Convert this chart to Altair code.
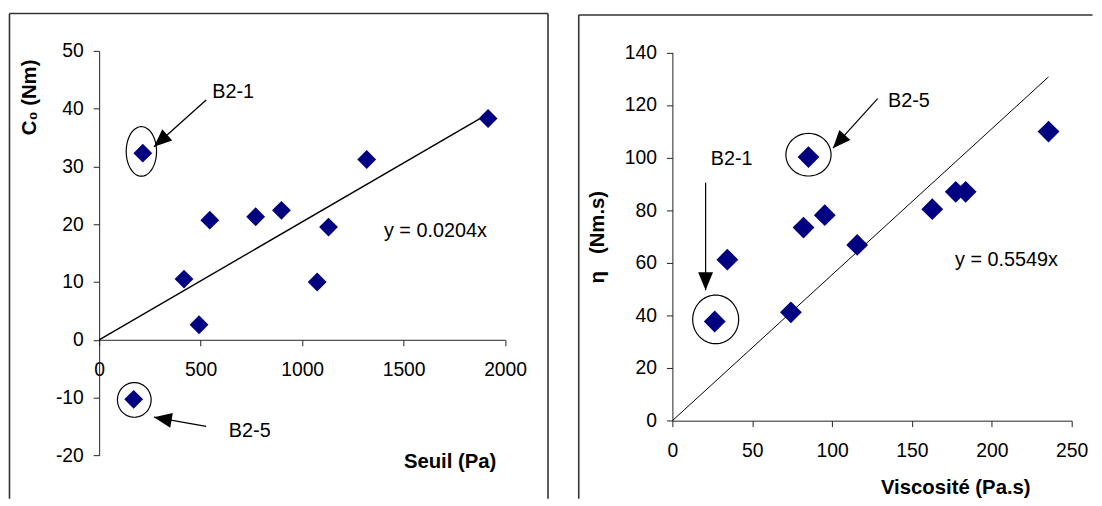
import math
import altair as alt
import pandas as pd

# ---------------- data ----------------
# Left panel: C0 (Nm) versus Seuil (Pa)
seuil = [215, 1916, 1318, 898, 771, 545, 1130, 418, 1074, 492, 170]
c0 = [32.3, 38.3, 31.2, 22.4, 21.3, 20.7, 19.5, 10.5, 10.0, 2.6, -10.3]
slope_left = 0.0204

# Right panel: eta (Nm.s) versus Viscosite (Pa.s)
visc = [26.5, 34.4, 74.2, 82.1, 85.2, 95.4, 115.7, 162.7, 177.4, 183.6, 235.5]
eta = [37.7, 61.2, 41.2, 73.4, 100.2, 78.1, 66.8, 80.4, 87.0, 87.0, 109.9]
slope_right = 0.5549

left_x_ticks = [0, 500, 1000, 1500, 2000]
left_y_ticks = [-20, -10, 0, 10, 20, 30, 40, 50]
right_x_ticks = [0, 50, 100, 150, 200, 250]
right_y_ticks = [0, 20, 40, 60, 80, 100, 120, 140]

# annotations (data units)
left_labels = ["B2-1", "B2-5", "y = 0.0204x"]
left_label_x = [557, 639, 1403]
left_label_y = [42.9, -15.8, 18.9]
left_ring_x = [208, 173]
left_ring_y = [32.6, -10.4]
left_ring_rx = [15.3, 17.0]
left_ring_ry = [25.0, 17.5]
left_arrow_x = [527, 527]
left_arrow_y = [41.5, -15.0]
left_arrow_x2 = [270, 270]
left_arrow_y2 = [33.4, -13.4]

right_labels = ["B2-5", "B2-1", "y = 0.5549x"]
right_label_x = [135, 24, 177]
right_label_y = [121.5, 99.5, 60.9]
right_ring_x = [85.2, 27.1]
right_ring_y = [101.1, 38.5]
right_ring_rx = [22.8, 23.2]
right_ring_ry = [21.5, 24.5]
right_arrow_x = [128.5, 20.8]
right_arrow_y = [122.4, 90.4]
right_arrow_x2 = [100.5, 20.8]
right_arrow_y2 = [103.6, 49.6]

# ---------------- layout ----------------
FONT = "Liberation Sans"
LW, LH = 409.7, 408.2
RW, RH = 403.0, 373.2
LX_DOM, LX_RNG = [0, 2000], [0, LW]
LY_DOM, LY_RNG = [-20, 50], [LH, 0]
RX_DOM, RX_RNG = [0, 250], [0, RW]
RY_DOM, RY_RNG = [0, 140], [RH, 1.5]
HEAD = "M0,0L-7.5,18L7.5,18Z"
PLAIN = "'' + datum.value"   # plain integers, ASCII minus sign


def to_px(v, dom, rng):
    return rng[0] + (v - dom[0]) / (dom[1] - dom[0]) * (rng[1] - rng[0])


def ellipse(rx, ry, n=72):
    pts = []
    for i in range(n):
        t = 2 * math.pi * i / n
        pts.append(f"{rx * math.cos(t):.2f},{ry * math.sin(t):.2f}")
    return "M" + "L".join(pts) + "Z"


def arrow_df(xs, ys, x2s, y2s, xd, xr, yd, yr):
    angs = []
    for a, b, c, d in zip(xs, ys, x2s, y2s):
        dx = to_px(c, xd, xr) - to_px(a, xd, xr)
        dy = to_px(d, yd, yr) - to_px(b, yd, yr)
        angs.append(math.degrees(math.atan2(dx, -dy)) % 360)
    return pd.DataFrame({"x": xs, "y": ys, "x2": x2s, "y2": y2s, "ang": angs})


def frame_rules(segments):
    one = pd.DataFrame({"a": [0]})
    out = []
    for (x1, y1, x2, y2) in segments:
        out.append(alt.Chart(one).mark_rule(color="#333333", strokeWidth=1.6).encode(
            x=alt.value(x1), y=alt.value(y1), x2=alt.value(x2), y2=alt.value(y2)))
    return out


def panel(px_vals, py_vals, slope, xd, xr, yd, yr, xaxis, yaxis,
          labels, lx, ly, rx_, ry_, rrx, rry, ax, ay, ax2, ay2,
          pt_size, line_w, shaft_w, frame_segments, w, h):
    sx = alt.Scale(domain=xd, range=xr, nice=False, zero=False)
    sy = alt.Scale(domain=yd, range=yr, nice=False, zero=False)

    # the same axis definition on every layer so the shared axis merges cleanly
    def X(f):
        return alt.X(f, type="quantitative", scale=sx, axis=xaxis)

    def Y(f):
        return alt.Y(f, type="quantitative", scale=sy, axis=yaxis)

    pts = pd.DataFrame({"x": px_vals, "y": py_vals})
    xmax = max(px_vals)
    trend = pd.DataFrame({"x": [0, xmax], "y": [0, slope * xmax]})
    rings = pd.DataFrame({"x": rx_, "y": ry_,
                          "path": [ellipse(a, b) for a, b in zip(rrx, rry)]})
    arrows = arrow_df(ax, ay, ax2, ay2, xd, xr, yd, yr)
    texts = pd.DataFrame({"x": lx, "y": ly, "t": labels})

    line_l = alt.Chart(trend).mark_line(color="black", strokeWidth=line_w).encode(
        x=X("x"), y=Y("y"))
    ring_l = alt.Chart(rings).mark_point(
        filled=False, size=4, color="black", strokeWidth=1.2, opacity=1
    ).encode(x=X("x"), y=Y("y"), shape=alt.Shape("path:N", scale=None))
    shaft_l = alt.Chart(arrows).mark_rule(color="black", strokeWidth=shaft_w).encode(
        x=X("x"), y=Y("y"), x2="x2:Q", y2="y2:Q")
    head_l = alt.Chart(arrows).mark_point(
        filled=True, size=4, color="black", opacity=1, shape=HEAD
    ).encode(x=X("x2"), y=Y("y2"), angle=alt.Angle("ang:Q", scale=None))
    text_l = alt.Chart(texts).mark_text(
        align="left", baseline="middle", font=FONT, fontSize=20, color="black"
    ).encode(x=X("x"), y=Y("y"), text="t:N")
    pt_l = alt.Chart(pts).mark_point(
        shape="diamond", filled=True, size=pt_size, color="#000080", opacity=1
    ).encode(x=X("x"), y=Y("y"))
    layers = frame_rules(frame_segments) + [line_l, ring_l, shaft_l, head_l, text_l, pt_l]
    return alt.layer(*layers).properties(width=w, height=h)


# left panel: x axis sits on y = 0
ax_xl = alt.Axis(orient="bottom", offset=-(LH - to_px(0, LY_DOM, LY_RNG)),
                 values=left_x_ticks, labelExpr=PLAIN,
                 title="Seuil (Pa)", titleX=353.7, titleY=123,
                 titleAngle=0, titleAlign="center", titleBaseline="middle",
                 labelPadding=15.5)
ax_yl = alt.Axis(orient="left", values=left_y_ticks, labelExpr=PLAIN,
                 title="C₀ (Nm)", titleX=-70.3, titleY=46.5, titleAngle=270,
                 titleAlign="center", titleBaseline="middle", labelPadding=10)
ax_xr = alt.Axis(orient="bottom", values=right_x_ticks, labelExpr=PLAIN,
                 title="Viscosité (Pa.s)", titleX=285.5, titleY=67.6, titleAngle=0,
                 titleAlign="center", titleBaseline="middle", labelPadding=15.5)
ax_yr = alt.Axis(orient="left", values=right_y_ticks, labelExpr=PLAIN,
                 title="η\u00a0\u00a0\u00a0(Nm.s)", titleX=-75.5, titleY=187.5,
                 titleAngle=270, titleAlign="center", titleBaseline="middle",
                 labelPadding=10)

# frame segments (pixels relative to each plot area)
left_frame = [(-90.5, -37.7, 453.0, -37.7),
              (-90.5, -37.7, -90.5, 452.0),
              (453.0, -37.7, 453.0, 452.0)]
right_frame = [(-94.5, -36.2, 424.0, -36.2),
               (-94.5, -36.2, -94.5, 452.0)]

left = panel(seuil, c0, slope_left, LX_DOM, LX_RNG, LY_DOM, LY_RNG, ax_xl, ax_yl,
             left_labels, left_label_x, left_label_y,
             left_ring_x, left_ring_y, left_ring_rx, left_ring_ry,
             left_arrow_x, left_arrow_y, left_arrow_x2, left_arrow_y2,
             361, 1.4, 1.3, left_frame, LW, LH)
right = panel(visc, eta, slope_right, RX_DOM, RX_RNG, RY_DOM, RY_RNG, ax_xr, ax_yr,
              right_labels, right_label_x, right_label_y,
              right_ring_x, right_ring_y, right_ring_rx, right_ring_ry,
              right_arrow_x, right_arrow_y, right_arrow_x2, right_arrow_y2,
              484, 1.0, 1.2, right_frame, RW, RH)

chart = alt.hconcat(left, right, spacing=168.5, bounds="flush").properties(
    padding={"left": 0, "top": 2, "right": 0, "bottom": 0},
    background="white",
).configure_view(strokeWidth=0).configure_axis(
    grid=False, domainColor="#222222", tickColor="#222222", domainWidth=1,
    tickWidth=1, tickSize=6, labelColor="black", labelFont=FONT,
    labelFontSize=19.5, labelFlush=False, labelOverlap=False,
    titleFont=FONT, titleFontSize=20.5, titleFontWeight="bold", titleColor="black",
)

chart.save("out.html", embed_options={"renderer": "svg", "actions": False})
